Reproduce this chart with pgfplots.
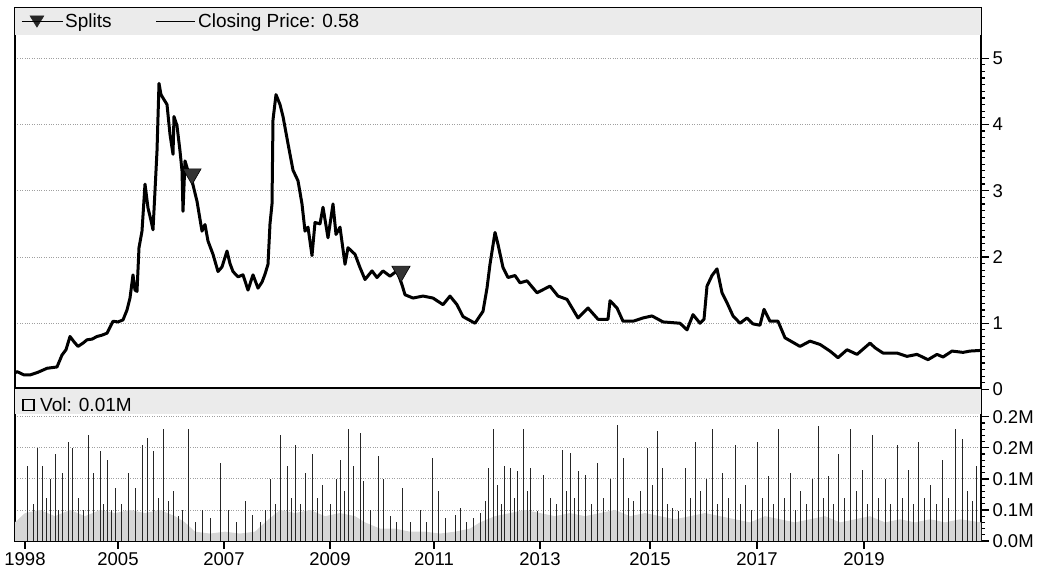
\documentclass[border=0pt]{standalone}
\usepackage{fontspec}
\setmainfont{Liberation Sans}
\usepackage{pgfplots}
\usepackage{pgfplotstable}
\pgfplotsset{compat=1.18}
\pgfplotstableread{
x p
15 0.25
17 0.27
24 0.22
30 0.22
38 0.26
47 0.32
57 0.34
62 0.52
66 0.60
70 0.80
74 0.72
78 0.65
83 0.70
87 0.75
92 0.76
97 0.80
102 0.82
107 0.85
113 1.03
118 1.02
123 1.05
127 1.20
130 1.38
133 1.73
135 1.50
137 1.48
139 2.14
142 2.39
145 3.10
148 2.74
151 2.55
153 2.41
155 3.00
157 3.60
159 4.62
161 4.45
163 4.40
165 4.35
167 4.30
170 3.85
173 3.55
174 4.12
177 3.98
180 3.60
182 3.30
183 2.69
185 3.45
188 3.30
192 3.15
197 2.84
202 2.39
205 2.49
208 2.24
213 2.04
218 1.78
222 1.85
227 2.09
230 1.90
233 1.78
238 1.70
243 1.73
248 1.50
253 1.73
258 1.53
262 1.62
265 1.74
268 1.89
270 2.50
272 2.80
273 4.07
276 4.45
280 4.30
283 4.12
288 3.71
293 3.31
298 3.15
302 2.80
305 2.39
308 2.45
312 2.02
315 2.52
320 2.50
323 2.75
328 2.29
333 2.80
336 2.34
340 2.45
345 1.89
348 2.14
355 2.04
360 1.84
365 1.66
372 1.79
377 1.69
383 1.79
390 1.71
397 1.79
402 1.58
405 1.43
413 1.38
423 1.41
433 1.38
443 1.28
450 1.41
457 1.28
463 1.10
469 1.05
475 1.00
483 1.18
487 1.53
490 1.89
495 2.37
498 2.19
503 1.84
508 1.69
515 1.72
520 1.61
527 1.64
537 1.46
550 1.56
558 1.41
567 1.36
578 1.08
588 1.23
598 1.06
608 1.06
610 1.34
617 1.23
623 1.03
633 1.03
643 1.08
652 1.11
663 1.02
680 1.00
687 0.90
693 1.13
700 1.00
704 1.06
707 1.56
712 1.72
717 1.82
722 1.46
727 1.31
733 1.11
740 1.00
747 1.08
753 0.99
760 0.97
764 1.21
770 1.03
778 1.03
785 0.78
800 0.65
810 0.73
820 0.68
830 0.58
838 0.48
847 0.60
857 0.53
870 0.70
875 0.63
883 0.55
897 0.55
907 0.50
917 0.53
928 0.45
937 0.53
943 0.49
952 0.58
963 0.56
970 0.58
981 0.59
}\price
\pgfplotstableread{
x p
192 3.25
401 1.78
}\splits
\pgfplotstableread{
x v
27 0.12
33 0.06
37 0.15
42 0.12
46 0.07
50 0.10
55 0.14
58 0.05
62 0.11
68 0.16
72 0.15
78 0.07
83 0.05
88 0.17
93 0.11
100 0.145
103 0.06
107 0.13
111 0.05
115 0.085
121 0.06
128 0.11
135 0.085
142 0.155
147 0.166
153 0.145
158 0.07
163 0.18
168 0.065
173 0.08
178 0.04
182 0.05
188 0.18
195 0.03
202 0.05
210 0.037
220 0.126
228 0.05
236 0.03
245 0.065
252 0.042
260 0.03
265 0.05
270 0.10
275 0.06
280 0.17
287 0.12
291 0.07
295 0.155
300 0.06
305 0.11
312 0.14
317 0.07
322 0.09
330 0.06
336 0.10
340 0.13
344 0.08
348 0.18
353 0.12
360 0.174
363 0.097
370 0.05
378 0.137
383 0.10
390 0.04
396 0.03
402 0.085
410 0.03
420 0.05
426 0.03
432 0.134
438 0.08
445 0.037
455 0.042
460 0.053
466 0.03
473 0.037
480 0.045
485 0.065
488 0.118
493 0.18
497 0.09
501 0.06
504 0.12
510 0.118
514 0.07
517 0.113
523 0.18
527 0.08
530 0.118
537 0.048
543 0.106
550 0.07
556 0.06
562 0.147
566 0.08
570 0.142
574 0.07
578 0.113
585 0.106
591 0.06
597 0.126
603 0.07
610 0.10
617 0.187
623 0.134
628 0.07
633 0.065
640 0.08
647 0.15
652 0.09
657 0.177
662 0.118
667 0.06
672 0.053
678 0.048
685 0.118
690 0.07
695 0.16
700 0.08
706 0.10
712 0.18
717 0.06
722 0.11
728 0.07
735 0.155
740 0.06
745 0.09
751 0.05
757 0.16
762 0.07
768 0.105
773 0.06
778 0.18
784 0.07
790 0.11
795 0.05
800 0.08
806 0.06
812 0.10
818 0.185
823 0.07
828 0.105
833 0.06
838 0.14
844 0.07
850 0.18
856 0.08
862 0.115
867 0.06
872 0.17
878 0.07
885 0.10
890 0.06
897 0.155
902 0.07
908 0.115
913 0.06
918 0.16
924 0.07
930 0.09
936 0.06
942 0.13
948 0.07
955 0.18
962 0.165
967 0.08
972 0.065
976 0.12
}\vol
\pgfplotstableread{
x v
15 0.03
25 0.045
40 0.05
55 0.04
70 0.05
85 0.04
100 0.05
115 0.045
130 0.05
145 0.045
160 0.05
175 0.04
185 0.03
195 0.015
210 0.012
225 0.015
240 0.012
255 0.015
265 0.03
280 0.05
295 0.045
310 0.05
325 0.04
340 0.045
355 0.04
365 0.03
380 0.02
395 0.02
410 0.015
425 0.015
440 0.012
455 0.015
470 0.02
480 0.03
495 0.04
510 0.045
525 0.05
540 0.045
555 0.04
570 0.045
585 0.04
600 0.045
615 0.05
630 0.04
645 0.045
660 0.04
675 0.035
690 0.04
705 0.045
720 0.04
735 0.035
750 0.03
765 0.04
780 0.035
795 0.03
810 0.035
825 0.04
840 0.03
855 0.035
870 0.04
885 0.03
900 0.035
915 0.03
930 0.035
945 0.03
960 0.035
981 0.03
}\volfloor
\begin{document}
\begin{tikzpicture}
\path[use as bounding box] (0pt,0pt) rectangle (1041pt,578pt);
\pgfplotsset{
  common/.style={
    scale only axis, width=966pt,
    xmin=15, xmax=981,
    ytick pos=right, yticklabel pos=right,
    tick align=outside,
    major tick length=8pt, minor tick length=4pt,
    every tick/.style={black, line width=1.2pt},
    axis line style={line width=2pt},
    ymajorgrids, grid style={dotted, gray!75, line width=0.9pt},
    tick label style={font=\fontsize{18.5}{20}\selectfont},
    /pgf/number format/assume math mode=true,
  }
}
\begin{axis}[common,
  at={(15pt,188.5pt)}, anchor=south west, height=381pt,
  ymin=0, ymax=5.75,
  xtick=\empty,
  ytick={0,1,2,3,4,5}, yticklabels={0,1,2,3,4,5},
  minor y tick num=9,
  legend columns=2,
  legend style={at={(axis description cs:0,1)}, anchor=north west,
    xshift=3pt, yshift=-1pt,
    draw=none, fill=none, font=\fontsize{19}{21}\selectfont,
    /tikz/every even column/.append style={column sep=42pt}},
]
\fill[gray!16] (axis description cs:0,1) rectangle ([yshift=-27pt]axis description cs:1,1);
\addlegendimage{legend image code/.code={
  \draw[black,line width=1.5pt] (0pt,0pt) -- (30pt,0pt);
  \fill[black!85] (8pt,5.5pt) -- (22pt,5.5pt) -- (15pt,-6pt) -- cycle;
  \path (0pt,0pt) -- (41pt,0pt);}}
\addlegendentry{Splits}
\addlegendimage{legend image code/.code={
  \draw[black,line width=1.5pt] (0pt,0pt) -- (39pt,0pt);}}
\addlegendentry{Closing Price: 0.58}
\addplot[black, line width=3pt, line join=round, forget plot] table[x=x,y=p] {\price};
\addplot[only marks, mark=triangle*, mark size=10.5pt,
  mark options={rotate=180, fill=black!80, draw=black, line width=0.6pt}, forget plot]
  table[x=x,y=p] {\splits};
\draw[line width=4pt] (axis description cs:0,0) -- (axis description cs:1,0);
\end{axis}
\begin{axis}[common,
  at={(15pt,37pt)}, anchor=south west, height=151.5pt,
  ymin=0, ymax=0.244,
  xtick={25,118,224,330,434,540,650,757,864},
  xticklabels={1998,2005,2007,2009,2011,2013,2015,2017,2019},
  xtick pos=left,
  ytick={0,0.05,0.1,0.15,0.2},
  yticklabels={0.0M,0.1M,0.1M,0.2M,0.2M},
  minor y tick num=4,
]
\fill[gray!16] (axis description cs:0,1) rectangle ([yshift=-25pt]axis description cs:1,1);
\addplot[fill=gray!32, draw=none] table[x=x,y=v] {\volfloor} \closedcycle;
\addplot[ycomb, black!85, line width=1pt] table[x=x,y=v] {\vol};
\draw[line width=1.2pt] ([xshift=8pt,yshift=-21pt]axis description cs:0,1) rectangle ++(11pt,11pt);
\node[anchor=west, font=\fontsize{19}{21}\selectfont, inner sep=0pt]
  at ([xshift=25pt,yshift=-15.5pt]axis description cs:0,1) {Vol: 0.01M};
\end{axis}
\end{tikzpicture}
\end{document}
